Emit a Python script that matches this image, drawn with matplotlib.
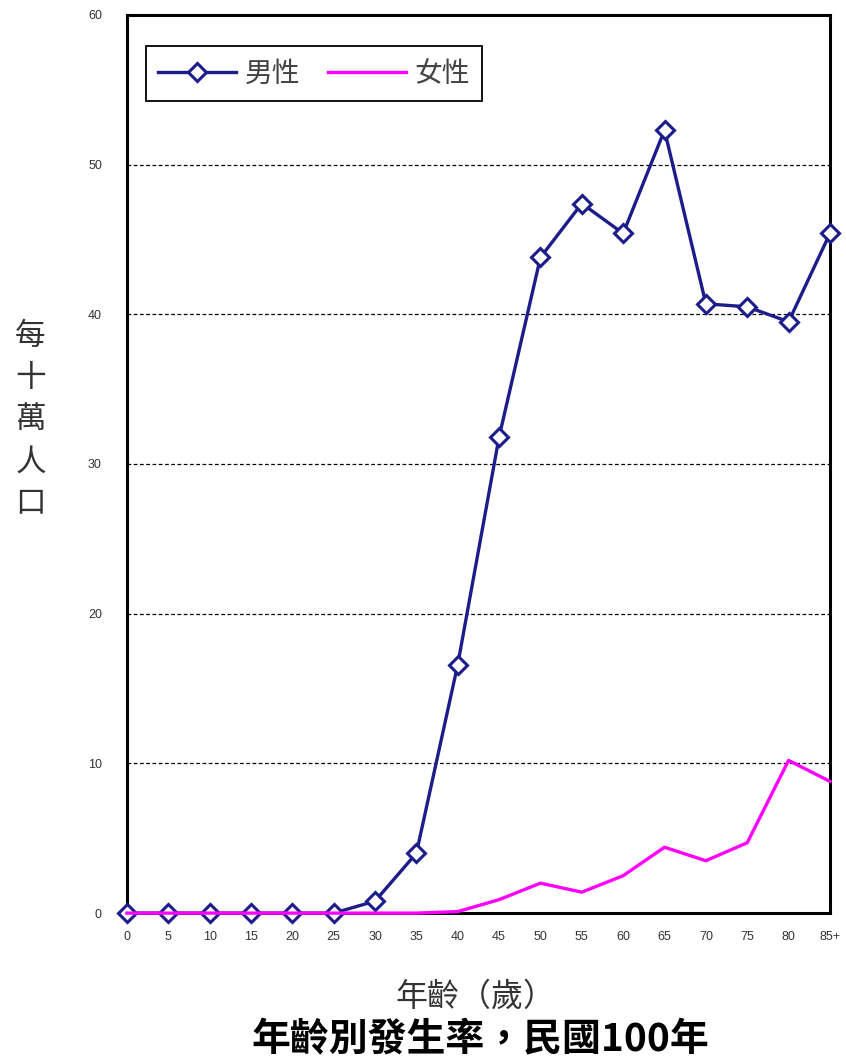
import matplotlib.pyplot as plt

plt.rcParams['font.family'] = ['Noto Sans CJK TC', 'DejaVu Sans']

ages = ['0', '5', '10', '15', '20', '25', '30', '35', '40', '45',
        '50', '55', '60', '65', '70', '75', '80', '85+']
male = [0, 0, 0, 0, 0, 0, 0.8, 4.0, 16.6, 31.8,
        43.8, 47.4, 45.4, 52.3, 40.7, 40.5, 39.5, 45.4]
female = [0, 0, 0, 0, 0, 0, 0, 0, 0.1, 0.9,
          2.0, 1.4, 2.5, 4.4, 3.5, 4.7, 10.2, 8.8]

fig = plt.figure(figsize=(8.46, 10.63), dpi=100)
ax = fig.add_axes([0.150, 0.141, 0.831, 0.845])

x = list(range(len(ages)))
ax.plot(x, male, color='#1c1c8a', lw=2.4, marker='D', markersize=9.5,
        markerfacecolor='white', markeredgecolor='#1c1c8a', markeredgewidth=2.2,
        label='男性', zorder=4, clip_on=False)
ax.plot(x, female, color='#ff00ff', lw=2.4, label='女性', zorder=5, clip_on=False)

ax.set_xlim(0, len(ages) - 1)
ax.set_ylim(0, 60)
ax.set_xticks(x)
ax.set_xticklabels(ages, family=['Liberation Sans'], fontsize=9, color='#333333')
ax.set_yticks(range(0, 61, 10))
ax.set_yticklabels([str(v) for v in range(0, 61, 10)], family=['Liberation Sans'],
                   fontsize=9, color='#333333')
ax.tick_params(axis='x', length=0, pad=13)
ax.tick_params(axis='y', length=0, pad=18)

for v in range(10, 60, 10):
    ax.axhline(v, color='black', lw=0.9, ls=(0, (3, 2)), zorder=1)

for s in ax.spines.values():
    s.set_linewidth(2.2)

leg = ax.legend(loc='upper left', ncol=2, bbox_to_anchor=(0.027, 0.965),
                borderaxespad=0, fancybox=False, framealpha=1,
                edgecolor='black', fontsize=20, handlelength=2.8,
                columnspacing=1.0, borderpad=0.45, handletextpad=0.3)
leg.get_frame().set_linewidth(1.3)
for t in leg.get_texts():
    t.set_color('#444444')

fig.text(0.036, 0.605, '每\n十\n萬\n人\n口', fontsize=22, color='#333333',
         ha='center', va='center', linespacing=1.45)
fig.text(0.562, 0.062, '年齡（歲）', fontsize=23, color='#333333', ha='center', va='center')
fig.text(0.568, 0.022, '年齡別發生率，民國100年', fontsize=28, fontweight='bold',
         color='black', ha='center', va='center')

fig.savefig('out.png', dpi=100)
